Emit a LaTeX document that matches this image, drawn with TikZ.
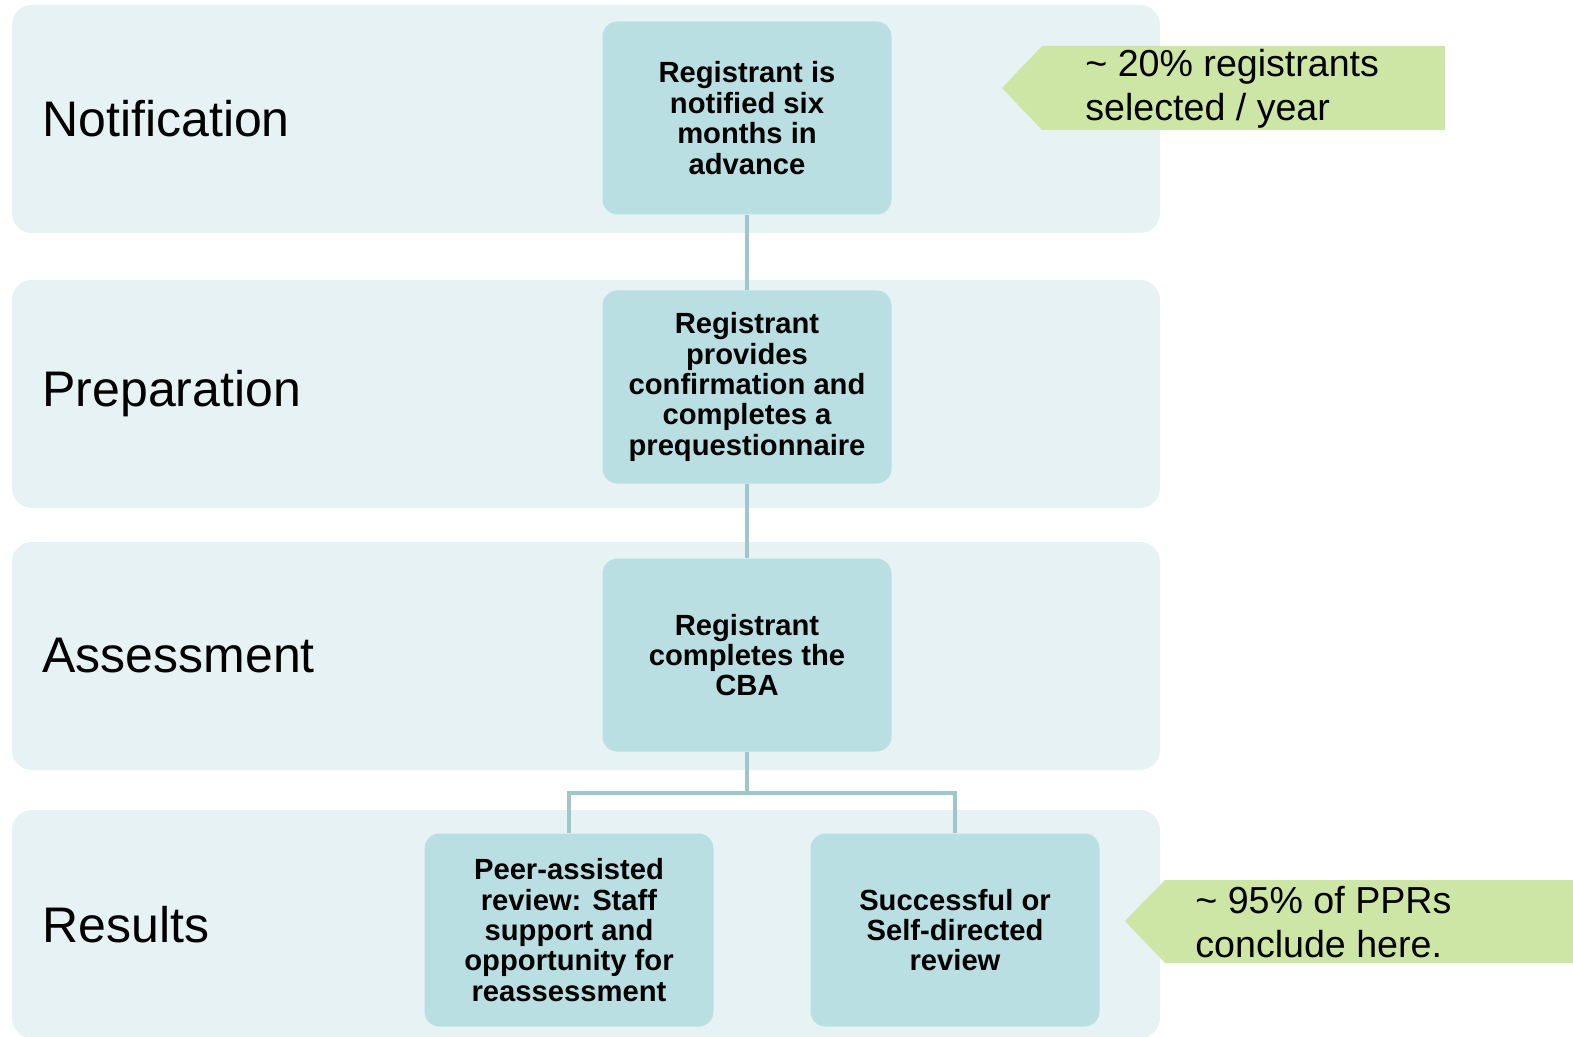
\documentclass[tikz,border=0pt]{standalone}
\usepackage{fontspec}
\setmainfont{Liberation Sans}
\usetikzlibrary{positioning}
\definecolor{bandfill}{HTML}{E6F2F4}
\definecolor{boxfill}{HTML}{B9DFE3}
\definecolor{linkcol}{HTML}{9FC6CB}
\definecolor{notefill}{HTML}{CDE6A5}
\tikzset{
  band/.style={fill=bandfill,rounded corners=10pt,minimum width=574pt,minimum height=114pt,inner sep=0pt},
  phase/.style={anchor=west,inner sep=0pt,font=\fontsize{25}{29}\selectfont},
  stepbox/.style={fill=boxfill,rounded corners=7.5pt,minimum width=144.5pt,minimum height=96.5pt,
    inner sep=0pt,align=center,font=\fontsize{14.6}{15.2}\selectfont\bfseries},
  note/.style={anchor=west,inner sep=0pt,align=left,font=\fontsize{18.8}{22}\selectfont},
  link/.style={draw=linkcol,line width=2pt}
}
\begin{document}
\begin{tikzpicture}[x=0.5pt,y=-0.5pt]
\useasboundingbox (0,0) rectangle (1573,1037);
% phase bands
\node[band] (bnot) at (586,119) {};
\node[band] (bprep) at (586,394) {};
\node[band] (bass) at (586,656) {};
\node[band] (bres) at (586,924) {};
\node[phase] (lnot) at (42,119) {Notification};
\node[phase] (lprep) at (42,394) {Preparation};
\node[phase] (lass) at (42,656) {Assessment};
\node[phase] (lres) at (42,925) {Results};
% steps
\node[stepbox] (notify) at (747,118) {Registrant is\\notified six\\months in\\advance};
\node[stepbox] (confirm) at (747,387) {Registrant\\provides\\confirmation and\\completes a\\prequestionnaire};
\node[stepbox] (cba) at (747,655) {Registrant\\completes the\\CBA};
\node[stepbox] (peer) at (569,930) {Peer-assisted\\review: Staff\\support and\\opportunity for\\reassessment};
\node[stepbox] (self) at (955,930) {Successful or\\Self-directed\\review};
% connectors
\draw[link] (notify) -- (confirm);
\draw[link] (confirm) -- (cba);
\coordinate (fork) at (747,793);
\draw[link] (cba) -- (fork) -| (peer);
\draw[link] (fork) -| (self);
% callouts
\fill[notefill] (1002,88) -- (1042,46) -- (1445,46) -- (1445,130) -- (1042,130) -- cycle;
\node[note] (share) at (1085,89) {\textasciitilde{} 20\% registrants\\selected / year};
\fill[notefill] (1125,921) -- (1165,880) -- (1573,880) -- (1573,963) -- (1165,963) -- cycle;
\node[note] (ppr) at (1195,922) {\textasciitilde{} 95\% of PPRs\\conclude here.};
\end{tikzpicture}
\end{document}
